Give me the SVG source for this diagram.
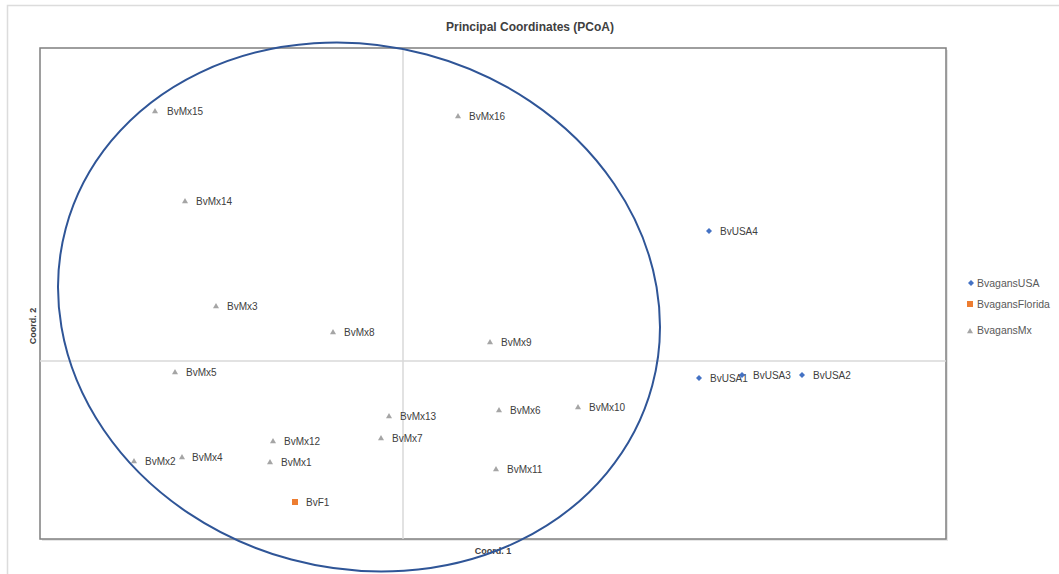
<svg xmlns="http://www.w3.org/2000/svg" width="1059" height="574" viewBox="0 0 1059 574">
<defs>
<style>
.lbl{font-family:"Liberation Sans",Arial,sans-serif;font-size:10px;fill:#404040}
.leg{font-family:"Liberation Sans",Arial,sans-serif;font-size:10.5px;fill:#595959}
.ttl{font-family:"Liberation Sans",Arial,sans-serif;font-size:12px;font-weight:bold;fill:#404040}
.ax{font-family:"Liberation Sans",Arial,sans-serif;font-size:9px;font-weight:bold;fill:#404040}
.grid{stroke:#d9d9d9;stroke-width:1.5}
</style>
<path id="tri" d="M0,-3 L3,2.2 L-3,2.2 Z" fill="#a5a5a5"/>
<path id="dia" d="M0,-3 L3,0 L0,3 L-3,0 Z" fill="#4472c4"/>
<rect id="sq" x="-3" y="-3" width="6" height="6" fill="#ed7d31"/>
</defs>
<rect width="1059" height="574" fill="#fff"/>
<path d="M7.5,574 V5.5 H1059" fill="none" stroke="#dcdcdc" stroke-width="1.5"/>
<text class="ttl" x="530" y="31" text-anchor="middle">Principal Coordinates (PCoA)</text>
<rect x="42" y="50" width="906" height="491" fill="#e6e6e6"/>
<rect x="40" y="48" width="906" height="491" fill="#fff" stroke="#7f7f7f" stroke-width="1.5"/>
<line class="grid" x1="403" y1="48" x2="403" y2="539"/>
<line class="grid" x1="40" y1="361" x2="946" y2="361"/>
<text class="ax" x="493" y="554" text-anchor="middle">Coord. 1</text>
<text class="ax" transform="translate(36,326) rotate(-90)" text-anchor="middle">Coord. 2</text>
<g id="points">
<g id="BvMx15"><use href="#tri" x="155" y="111"/><text class="lbl" x="167" y="115">BvMx15</text></g>
<g id="BvMx14"><use href="#tri" x="185" y="201"/><text class="lbl" x="196" y="205">BvMx14</text></g>
<g id="BvMx16"><use href="#tri" x="458" y="116"/><text class="lbl" x="469" y="120">BvMx16</text></g>
<g id="BvUSA4"><use href="#dia" x="709" y="231"/><text class="lbl" x="720" y="235">BvUSA4</text></g>
<g id="BvMx3"><use href="#tri" x="216" y="306"/><text class="lbl" x="227" y="310">BvMx3</text></g>
<g id="BvMx8"><use href="#tri" x="333" y="332"/><text class="lbl" x="344" y="336">BvMx8</text></g>
<g id="BvMx9"><use href="#tri" x="490" y="342"/><text class="lbl" x="501" y="346">BvMx9</text></g>
<g id="BvMx5"><use href="#tri" x="175" y="372"/><text class="lbl" x="186" y="376">BvMx5</text></g>
<g id="BvUSA1"><use href="#dia" x="699" y="378"/><text class="lbl" x="710" y="382">BvUSA1</text></g>
<g id="BvUSA3"><use href="#dia" x="742" y="375"/><text class="lbl" x="753" y="379">BvUSA3</text></g>
<g id="BvUSA2"><use href="#dia" x="802" y="375"/><text class="lbl" x="813" y="379">BvUSA2</text></g>
<g id="BvMx6"><use href="#tri" x="499" y="410"/><text class="lbl" x="510" y="414">BvMx6</text></g>
<g id="BvMx10"><use href="#tri" x="578" y="407"/><text class="lbl" x="589" y="411">BvMx10</text></g>
<g id="BvMx13"><use href="#tri" x="389" y="416"/><text class="lbl" x="400" y="420">BvMx13</text></g>
<g id="BvMx7"><use href="#tri" x="381" y="438"/><text class="lbl" x="392" y="442">BvMx7</text></g>
<g id="BvMx12"><use href="#tri" x="273" y="441"/><text class="lbl" x="284" y="445">BvMx12</text></g>
<g id="BvMx2"><use href="#tri" x="134" y="461"/><text class="lbl" x="145" y="465">BvMx2</text></g>
<g id="BvMx4"><use href="#tri" x="182" y="457"/><text class="lbl" x="192" y="461">BvMx4</text></g>
<g id="BvMx1"><use href="#tri" x="270" y="462"/><text class="lbl" x="281" y="466">BvMx1</text></g>
<g id="BvMx11"><use href="#tri" x="496" y="469"/><text class="lbl" x="507" y="473">BvMx11</text></g>
<g id="BvF1"><use href="#sq" x="295" y="502"/><text class="lbl" x="306" y="506">BvF1</text></g>
</g>
<g id="connectors"></g>
<ellipse cx="359" cy="307" rx="303.6" ry="261.5" transform="rotate(15 359 307)" fill="none" stroke="#2f5597" stroke-width="2"/>
<g id="legend">
<g id="leg-usa"><use href="#dia" x="971" y="283"/><text class="leg" x="977" y="287">BvagansUSA</text></g>
<g id="leg-fl"><rect x="967" y="301" width="6" height="6" fill="#ed7d31"/><text class="leg" x="977" y="308">BvagansFlorida</text></g>
<g id="leg-mx"><use href="#tri" x="970" y="331"/><text class="leg" x="977" y="334">BvagansMx</text></g>
</g>
</svg>
